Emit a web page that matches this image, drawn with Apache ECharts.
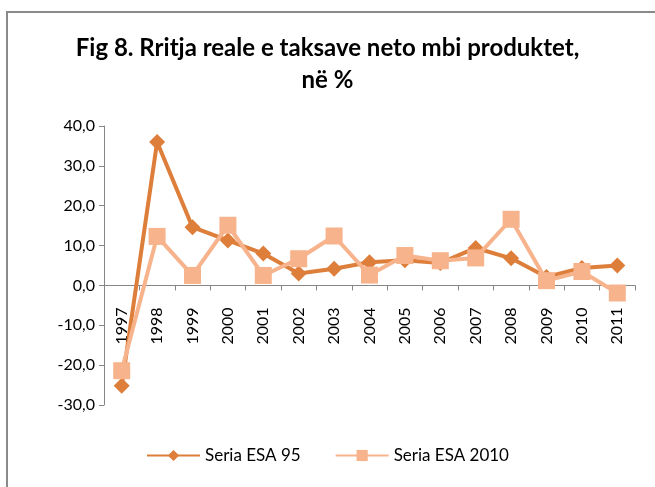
<!DOCTYPE html>
<html>
<head>
<meta charset="utf-8">
<script src="https://cdn.jsdelivr.net/npm/echarts@6/dist/echarts.min.js"></script>
<style>
html,body{margin:0;padding:0;background:#fff;}
#chart{width:655px;height:487px;}
</style>
</head>
<body>
<div id="chart"></div>
<script>
var years = ['1997','1998','1999','2000','2001','2002','2003','2004','2005','2006','2007','2008','2009','2010','2011'];
var esa95 = [-25.2, 36.0, 14.6, 11.3, 8.0, 3.0, 4.2, 5.8, 6.3, 5.6, 9.4, 6.8, 2.1, 4.4, 5.0];
var esa2010 = [-21.4, 12.3, 2.5, 15.1, 2.5, 6.7, 12.4, 2.6, 7.5, 6.2, 6.9, 16.6, 1.2, 3.5, -1.9];
var yTicks = [-30, -20, -10, 0, 10, 20, 30, 40];

var c95 = '#DD7E3A', c2010 = '#F7B38C';
var font = 'Lato, "Open Sans", sans-serif';

// grid geometry: x axis sits at value 0, so shift it up from the grid bottom
var gridTop = 126, gridBottom = 82, plotH = 487 - gridTop - gridBottom;
var zeroOffset = plotH * (0 - yTicks[0]) / (yTicks[yTicks.length - 1] - yTicks[0]);

var myChart = echarts.init(document.getElementById('chart'));
var option = {
	backgroundColor: '#fff',
	animation: false,
	textStyle: { fontFamily: font },
	graphic: [{
		type: 'rect',
		shape: { x: 7, y: 12, width: 700, height: 600 },
		style: { fill: 'none', stroke: '#8a8a8a', lineWidth: 2 },
		silent: true
	}],
	title: {
		text: 'Fig 8. Rritja reale e taksave neto mbi produktet,\nnë %',
		left: 'center',
		top: 27,
		textStyle: { fontFamily: font, fontSize: 24, fontWeight: 'bold', color: '#000', lineHeight: 32 }
	},
	grid: { left: 104, right: 20, top: gridTop, bottom: gridBottom },
	legend: {
		bottom: 18,
		left: 'center',
		itemWidth: 53,
		itemHeight: 14,
		itemGap: 34,
		textStyle: { fontFamily: font, fontSize: 17, color: '#000' },
		data: ['Seria ESA 95', 'Seria ESA 2010']
	},
	xAxis: {
		type: 'category',
		data: years,
		boundaryGap: true,
		position: 'bottom',
		offset: -zeroOffset,
		axisLine: { onZero: false, lineStyle: { color: '#868686', width: 1 } },
		axisTick: { show: true, length: 5, lineStyle: { color: '#868686' } },
		axisLabel: { rotate: 90, margin: 22, fontSize: 16, color: '#000', fontFamily: font }
	},
	yAxis: {
		type: 'value',
		min: yTicks[0],
		max: yTicks[yTicks.length - 1],
		interval: 10,
		splitLine: { show: false },
		axisLine: { show: true, lineStyle: { color: '#868686' } },
		axisTick: { show: true, length: 5, lineStyle: { color: '#868686' } },
		axisLabel: {
			fontSize: 16, color: '#000', fontFamily: font, margin: 9,
			formatter: function (v) { return v.toFixed(1).replace('.', ','); }
		}
	},
	series: [{
		name: 'Seria ESA 95',
		type: 'line',
		data: esa95,
		symbol: 'diamond',
		symbolSize: 16,
		z: 2,
		itemStyle: { color: c95 },
		lineStyle: { color: c95, width: 4 }
	}, {
		name: 'Seria ESA 2010',
		type: 'line',
		data: esa2010,
		symbol: 'rect',
		symbolSize: 17,
		z: 3,
		itemStyle: { color: c2010 },
		lineStyle: { color: c2010, width: 4 }
	}]
};
myChart.setOption(option);
</script>
</body>
</html>
